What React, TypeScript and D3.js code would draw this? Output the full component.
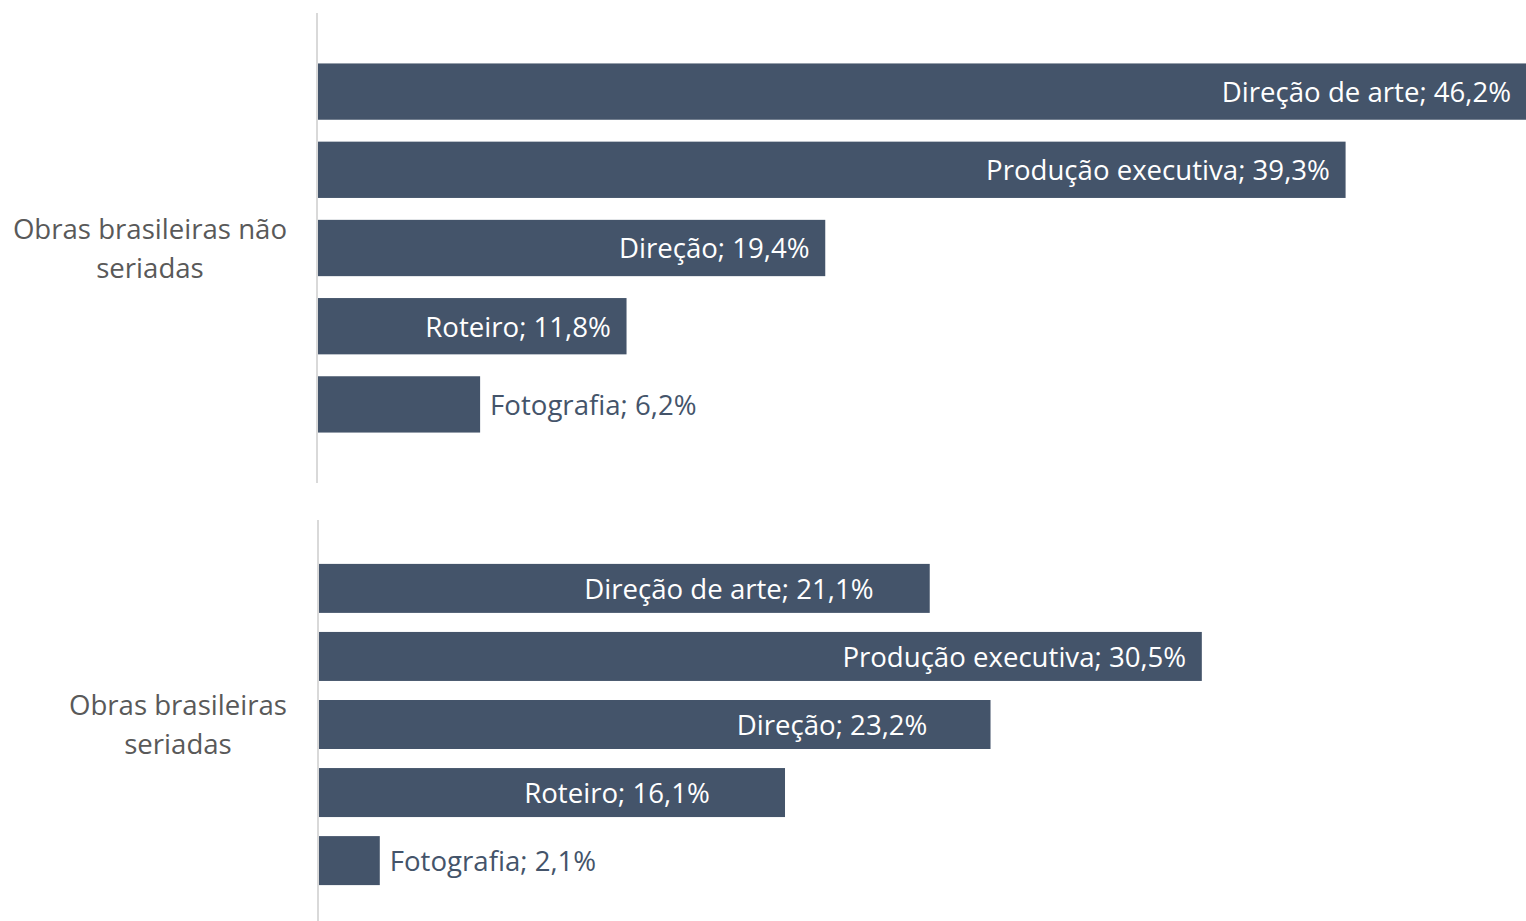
import React from "react";
import * as d3 from "d3";

const roles = ["Direção de arte", "Produção executiva", "Direção", "Roteiro", "Fotografia"];
const groupNames = [["Obras brasileiras não", "seriadas"], ["Obras brasileiras", "seriadas"]];
const naoSeriadas = [46.2, 39.3, 19.4, 11.8, 6.2];
const seriadas = [21.1, 30.5, 23.2, 16.1, 2.1];
// label end positions (in data units) for inside labels; null => outside label
const naoSeriadasLabelEnd = [45.63, 38.7, 18.8, 11.2, null];
const seriadasLabelEnd = [19.16, 29.96, 21.02, 13.5, null];
const axisMax = [46.2, 41.7];

const W = 1526;
const H = 921;
const BAR = "#44546A";
const FONT = "'Open Sans', 'Noto Sans', sans-serif";
const FS = 27.6;

function fmt(v: number) {
  return v.toFixed(1).replace(".", ",") + "%";
}

function Panel({ values, labelEnd, name, max, x0, y0, y1, axisBottom }: any) {
  const x = d3.scaleLinear().domain([0, max]).range([x0, W]);
  const y = d3.scaleBand<string>().domain(roles).range([y0, y1]).paddingInner(0.28).paddingOuter(0.645);
  const cy = (y(roles[0])! + y(roles[roles.length - 1])! + y.bandwidth()) / 2;
  return (
    <g>
      <line x1={x0 - 1} x2={x0 - 1} y1={y0} y2={axisBottom} stroke="#D9D9D9" strokeWidth={2} />
      {roles.map((r, i) => {
        const v = values[i];
        const yy = y(r)!;
        const le = labelEnd[i];
        const ym = yy + y.bandwidth() / 2;
        return (
          <g key={r}>
            <rect x={x(0)} y={yy} width={x(v) - x(0)} height={y.bandwidth()} fill={BAR} />
            {le !== null ? (
              <text x={x(le)} y={ym} dy="0.38em" textAnchor="end" fill="#FFFFFF" fontSize={FS} fontFamily={FONT}>
                {r}; {fmt(v)}
              </text>
            ) : (
              <text x={x(v) + 10} y={ym} dy="0.38em" textAnchor="start" fill={BAR} fontSize={FS} fontFamily={FONT}>
                {r}; {fmt(v)}
              </text>
            )}
          </g>
        );
      })}
      <CatLabel lines={name} right={287} cy={cy} />
    </g>
  );
}

function CatLabel({ lines, right, cy }: any) {
  const ref = React.useRef<SVGGElement>(null);
  const [cx, setCx] = React.useState(right - 135);
  React.useLayoutEffect(() => {
    if (!ref.current) return;
    const texts = ref.current.querySelectorAll("text");
    let maxW = 0;
    texts.forEach((t) => (maxW = Math.max(maxW, (t as SVGTextElement).getComputedTextLength())));
    setCx(right - maxW / 2);
  }, []);
  const lh = 39;
  return (
    <g ref={ref}>
      {lines.map((l: string, k: number) => (
        <text key={k} x={cx} y={cy + (k - (lines.length - 1) / 2) * lh} dy="0.38em" textAnchor="middle" fill="#595959" fontSize={FS} fontFamily={FONT}>
          {l}
        </text>
      ))}
    </g>
  );
}

export default function App() {
  return (
    <svg width={W} height={H} style={{ position: "absolute", left: 0, top: 0, background: "#fff" }}>
      <Panel values={naoSeriadas} labelEnd={naoSeriadasLabelEnd} name={groupNames[0]} max={axisMax[0]} x0={318} y0={13} y1={483} axisBottom={483} />
      <Panel values={seriadas} labelEnd={seriadasLabelEnd} name={groupNames[1]} max={axisMax[1]} x0={319} y0={520} y1={929} axisBottom={929} />
    </svg>
  );
}
